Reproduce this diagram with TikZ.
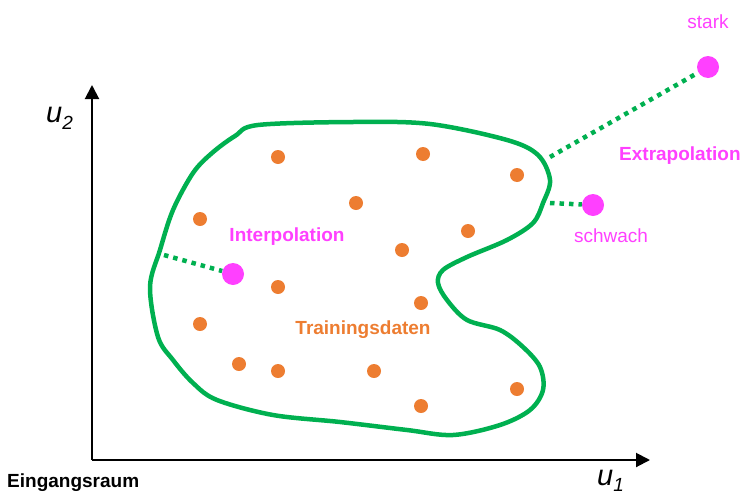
\documentclass[tikz,border=0pt]{standalone}
\usepackage{fontspec}
\setmainfont{Liberation Sans}
\usetikzlibrary{arrows.meta}
\definecolor{blobgreen}{RGB}{0,176,80}
\definecolor{dotorange}{RGB}{237,125,49}
\definecolor{pinkish}{RGB}{255,64,255}
\tikzset{
  axis/.style={line width=2pt,-{Triangle[length=14pt,width=14pt]}},
  train/.style={circle,fill=dotorange,minimum size=14pt,inner sep=0pt},
  query/.style={circle,fill=pinkish,minimum size=22pt,inner sep=0pt},
  link/.style={blobgreen,line width=4.5pt,dash pattern=on 4.5pt off 5pt},
  lab/.style={font=\fontsize{19}{22}\selectfont,inner sep=0pt},
  boldlab/.style={font=\fontsize{19}{22}\selectfont\bfseries,inner sep=0pt}
}
\begin{document}
\begin{tikzpicture}[x=1pt,y=-1pt]
\useasboundingbox (0,0) rectangle (741,498);
% axes
\coordinate (o) at (92,460);
\coordinate (ytip) at (92,85);
\coordinate (xtip) at (650,460);
\draw[axis] (o) -- (ytip);
\draw[axis] (o) -- (xtip);
\node[inner sep=0pt,anchor=base west] (u2) at (46,122) {\fontsize{29}{30}\selectfont\itshape u\raisebox{-7pt}{\fontsize{19}{20}\selectfont 2}};
\node[inner sep=0pt,anchor=base west] (u1) at (597,485) {\fontsize{29}{30}\selectfont\itshape u\raisebox{-6pt}{\fontsize{19}{20}\selectfont 1}};
\node[boldlab,anchor=base west] (raum) at (7,487) {Eingangsraum};
% blob
\draw[blobgreen,line width=4.5pt,line join=round] plot[smooth cycle,tension=0.55] coordinates {
(258,125) (353,122) (430,124) (507,140) (538,155) (550,180) (543,203) (533,223)
(507,240) (467,257) (443,270) (438,283) (447,300) (467,320) (500,330) (523,347)
(540,367) (543,390) (530,410) (500,425) (453,435) (407,430) (340,422) (273,415)
(217,400) (193,383) (173,360) (158,337) (150,287) (160,250) (173,210) (193,173)
(212,153) (235,136)};
% training points
\foreach \n/\x/\y in {a/278/157,b/423/154,c/517/175,d/356/203,e/200/219,f/468/231,g/402/250,h/278/287,i/421/303,j/200/324,k/239/364,l/278/371,m/374/371,n/517/389,p/421/406}
  \node[train] (t\n) at (\x,\y) {};
% query points
\node[query] (qi) at (233,274) {};
\node[query] (qs) at (593,205) {};
\node[query] (qst) at (708,67) {};
\coordinate (bi) at (164,255);
\coordinate (bs) at (550,203);
\coordinate (bst) at (550,157);
\draw[link] (bi) -- (qi);
\draw[link] (bs) -- (qs);
\draw[link] (bst) -- (qst);
% labels
\node[boldlab,text=pinkish] (interp) at (287,237) {Interpolation};
\node[boldlab,text=dotorange] (tdat) at (363,330) {Trainingsdaten};
\node[boldlab,text=pinkish,anchor=west] (extra) at (619,156) {Extrapolation};
\node[lab,text=pinkish] (schwach) at (611,236) {schwach};
\node[lab,text=pinkish] (stark) at (708,22) {stark};
\end{tikzpicture}
\end{document}
